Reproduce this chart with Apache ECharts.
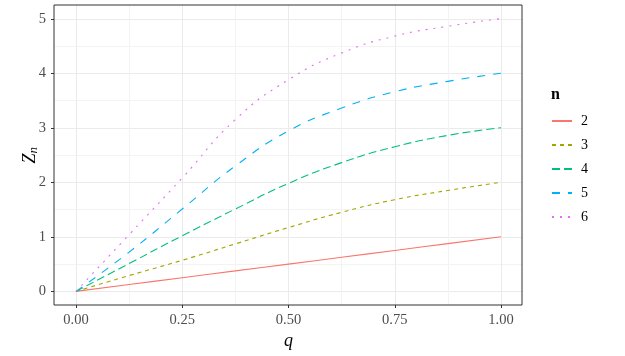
<!DOCTYPE html>
<html>
<head>
<meta charset="utf-8">
<script src="https://cdn.jsdelivr.net/npm/echarts@6/dist/echarts.min.js"></script>
<style>
  html, body { margin: 0; padding: 0; background: #fff; }
  #chart { width: 625px; height: 356px; }
</style>
</head>
<body>
<div id="chart"></div>
<script>
// values
const qValues = [0, 0.125, 0.25, 0.375, 0.5, 0.625, 0.75, 0.875, 1];
const z2 = [0, 0.125, 0.25, 0.375, 0.5, 0.625, 0.75, 0.875, 1];
const z3 = [0, 0.29, 0.57, 0.87, 1.17, 1.45, 1.68, 1.85, 2];
const z4 = [0, 0.51, 1.02, 1.51, 1.98, 2.36, 2.65, 2.86, 3];
const z5 = [0, 0.72, 1.51, 2.3, 2.94, 3.36, 3.66, 3.85, 4];
const z6 = [0, 1.04, 2.08, 3.15, 3.88, 4.37, 4.68, 4.86, 5];
const seriesNames = ["2", "3", "4", "5", "6"];
const xTicks = [0, 0.25, 0.5, 0.75, 1];
const yTicks = [0, 1, 2, 3, 4, 5];

const colors = ["#F8766D", "#A3A500", "#00BF7D", "#00B0F6", "#E76BF3"];
const dashes = ["solid", [4, 4], [8, 4], [8, 8], [2, 6]];
const font = "'Liberation Serif', 'DejaVu Serif', serif";

const chart = echarts.init(document.getElementById("chart"));

const allZ = [z2, z3, z4, z5, z6];
const series = allZ.map((z, i) => ({
  name: seriesNames[i],
  type: "line",
  xAxisIndex: 1,
  yAxisIndex: 1,
  data: qValues.map((q, j) => [q, z[j]]),
  symbol: "none",
  smooth: 0.5,
  lineStyle: { color: colors[i], width: 1.1, type: dashes[i] },
  itemStyle: { color: colors[i] },
  z: 3,
}));

const option = {
  animation: false,
  textStyle: { fontFamily: font },
  title: {
    text: "n",
    left: 546,
    top: 82,
    textStyle: { fontFamily: font, fontSize: 16, fontWeight: "bold", color: "#000" },
  },
  legend: {
    orient: "vertical",
    left: 546,
    top: 109,
    itemWidth: 20,
    itemHeight: 10,
    itemGap: 10,
    itemStyle: { opacity: 0 },
    textStyle: { fontFamily: font, fontSize: 14, color: "#000", padding: [0, 0, 0, 4] },
    data: seriesNames,
  },
  grid: [
    // panel border
    { left: 54, right: 103, top: 5, bottom: 51, outerBoundsMode: "none", show: true, borderColor: "#333", borderWidth: 1, backgroundColor: "transparent", z: 4 },
    // x range 0..1, full panel height
    { left: 76, right: 124, top: 5, bottom: 51, outerBoundsMode: "none" },
    // y range 0..5, full panel width
    { left: 54, right: 103, top: 19, bottom: 64.7, outerBoundsMode: "none" },
  ],
  xAxis: [
    { gridIndex: 0, type: "value", min: -0.05, max: 1.05, show: false },
    {
      gridIndex: 1,
      type: "value",
      min: 0,
      max: 1,
      interval: 0.25,
      name: "q",
      nameLocation: "middle",
      nameGap: 27,
      nameMoveOverlap: false,
      nameTextStyle: { fontFamily: font, fontSize: 18, fontStyle: "italic", color: "#000" },
      axisLine: { show: false, onZero: false },
      axisTick: { show: true, length: 3, lineStyle: { color: "#333" } },
      axisLabel: {
        margin: 8,
        fontFamily: font,
        fontSize: 14.5,
        color: "#4d4d4d",
        formatter: (v) => (xTicks.includes(v) ? v.toFixed(2) : ""),
      },
      splitLine: { show: true, lineStyle: { color: "#ebebeb", width: 1 } },
      minorTick: { show: false, splitNumber: 2 },
      minorSplitLine: { show: true, lineStyle: { color: "#f3f3f3", width: 1 } },
    },
    { gridIndex: 2, type: "value", min: -0.05, max: 1.05, show: false },
  ],
  yAxis: [
    { gridIndex: 0, type: "value", min: -0.25, max: 5.25, show: false },
    { gridIndex: 1, type: "value", min: -0.25, max: 5.25, show: false },
    {
      gridIndex: 2,
      type: "value",
      min: 0,
      max: 5,
      interval: 1,
      name: "{z|Z}{n|n}",
      nameLocation: "middle",
      nameGap: 14,
      nameMoveOverlap: false,
      nameRotate: 90,
      nameTextStyle: {
        rich: {
          z: { fontFamily: font, fontSize: 18, fontStyle: "italic", color: "#000" },
          n: { fontFamily: font, fontSize: 13, fontStyle: "italic", color: "#000", verticalAlign: "bottom", padding: [6, 0, 0, 0] },
        },
      },
      axisLine: { show: false, onZero: false },
      axisTick: { show: true, length: 3, lineStyle: { color: "#333" } },
      axisLabel: {
        margin: 8,
        fontFamily: font,
        fontSize: 14.5,
        color: "#4d4d4d",
        formatter: (v) => (yTicks.includes(v) ? String(v) : ""),
      },
      splitLine: { show: true, lineStyle: { color: "#ebebeb", width: 1 } },
      minorTick: { show: false, splitNumber: 2 },
      minorSplitLine: { show: true, lineStyle: { color: "#f3f3f3", width: 1 } },
    },
  ],
  series: series,
};

chart.setOption(option);
</script>
</body>
</html>
